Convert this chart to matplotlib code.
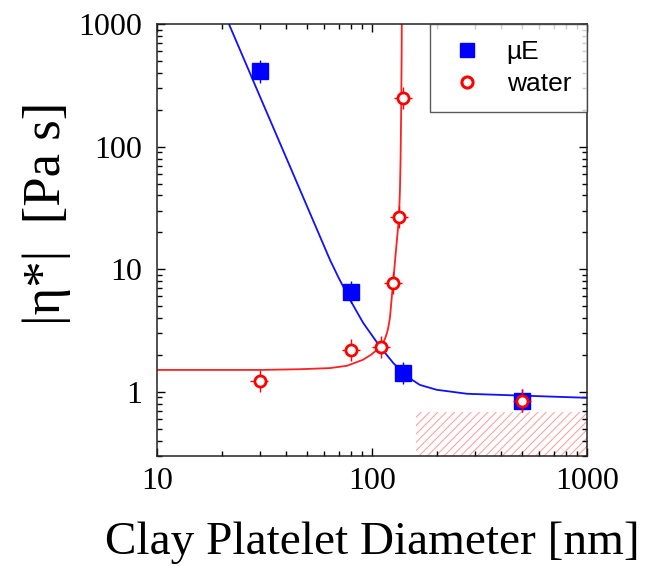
import matplotlib
matplotlib.use("Agg")
import matplotlib.pyplot as plt
from matplotlib.lines import Line2D

# ---- data ----
ue_x = [30, 80, 140, 500]
ue_y = [410, 6.58, 1.42, 0.85]
ue_yerr_lo = [78, 1.25, 0.27, 0.16]
ue_yerr_hi = [95, 1.5, 0.33, 0.2]

water_x = [30, 80, 110, 125.6, 134, 140, 500]
water_y = [1.22, 2.2, 2.32, 7.7, 26.9, 251, 0.85]
water_xerr_lo = [2.8, 7.4, 10, 11.5, 12.3, 12.9, 46]
water_xerr_hi = [3.0, 8.0, 11, 12.6, 13.4, 14.0, 50]
water_yerr_lo = [0.23, 0.42, 0.44, 1.46, 5.1, 48, 0.16]
water_yerr_hi = [0.28, 0.51, 0.53, 1.77, 6.2, 58, 0.2]

# fitted curves
ue_fit_x = [21.0, 21.7, 30.3, 42.3, 63.8, 70, 79.1, 85, 91.1, 108.9, 125.6, 144.9, 167, 200,
            277, 472, 1000]
ue_fit_y = [1150, 982, 250, 64, 11.9, 8.5, 5.63, 4.5, 3.64, 2.34, 1.72, 1.34, 1.14, 1.04,
            0.965, 0.935, 0.895]

water_fit_x = [10, 30, 46, 63.8, 76.5, 90.8, 98.9, 105.5, 110.1, 113.7, 115.6, 117.4, 118.7,
               120.0, 121.3, 123.9, 126.6, 129.3, 132.1, 133.5, 134.9, 135.8, 136.7, 137.3,
               137.6, 137.7]
water_fit_y = [1.51, 1.51, 1.53, 1.563, 1.633, 1.828, 2.006, 2.203, 2.329, 2.61, 2.786, 3.03,
               3.27, 3.62, 4.09, 6.21, 9.42, 14.3, 21.7, 26.7, 44.4, 78, 199, 509, 1000, 1100]

hatch_x = [160, 1000]
hatch_top = 0.69

x_ticks = [10, 100, 1000]
x_ticklabels = ["10", "100", "1000"]
y_ticks = [1, 10, 100, 1000]
y_ticklabels = ["1", "10", "100", "1000"]

plt.rcParams["hatch.linewidth"] = 0.7

fig = plt.figure(figsize=(6.46, 5.66), dpi=100)
ax = fig.add_axes([157/646, 1 - 456/566, 430/646, 432/566])

ax.set_xscale("log")
ax.set_yscale("log")
ax.set_xlim(10, 1000)
ax.set_ylim(0.3, 1000)

ax.fill_between(hatch_x, [0.3, 0.3], [hatch_top, hatch_top], facecolor="none",
                edgecolor="#ff9a9a", hatch="////", linewidth=0, zorder=1)

ax.plot(ue_fit_x, ue_fit_y, color="#1010ff", lw=1.3, zorder=2)
ax.plot(water_fit_x, water_fit_y, color="#ff2020", lw=1.3, zorder=2)

ax.errorbar(ue_x, ue_y, yerr=[ue_yerr_lo, ue_yerr_hi], fmt="s", color="#0000ff",
            ms=11.5, mec="#0000ff", elinewidth=1.0, capsize=0, zorder=3, label="µE")
ax.errorbar(water_x, water_y, xerr=[water_xerr_lo, water_xerr_hi],
            yerr=[water_yerr_lo, water_yerr_hi], fmt="o", color="#ff0000",
            ms=8, mfc="white", mec="#ff0000", mew=2.0, elinewidth=1.0, capsize=0,
            zorder=4, label="water")

ax.set_xticks(x_ticks)
ax.set_xticklabels(x_ticklabels)
ax.set_yticks(y_ticks)
ax.set_yticklabels(y_ticklabels)
ax.tick_params(which="both", direction="in", top=True, right=True)
ax.tick_params(which="major", length=6, width=1.0)
ax.tick_params(which="minor", length=3.5, width=1.0)
ax.tick_params(axis="y", which="major", pad=11)
ax.tick_params(axis="x", which="major", pad=8)
for lab in ax.get_xticklabels() + ax.get_yticklabels():
    lab.set_fontfamily("Liberation Serif")
    lab.set_fontsize(23)
for s in ax.spines.values():
    s.set_linewidth(1.1)
    s.set_color("#222222")

fig.text(372/646, 1 - 543/566, "Clay Platelet Diameter [nm]", fontfamily="Liberation Serif",
         fontsize=34, ha="center", va="center")
fig.text(47/646, 1 - 213/566, "|η*|  [Pa s]", fontfamily="Liberation Serif",
         fontsize=38, ha="center", va="center", rotation=90)

h1 = Line2D([], [], marker="s", ls="none", color="#0000ff", ms=10)
h2 = Line2D([], [], marker="o", ls="none", mfc="white", mec="#ff0000", mew=2.2, ms=8)
leg = ax.legend([h1, h2], ["µE", "water"], loc="upper right", bbox_to_anchor=(1, 1),
                borderaxespad=0, fancybox=False, frameon=True,
                prop={"family": "Liberation Sans", "size": 19},
                handletextpad=0.7, borderpad=0.6, labelspacing=0.3, handlelength=1.6)
leg.get_frame().set_edgecolor("#333333")
leg.get_frame().set_linewidth(1.0)

fig.savefig("out.png", dpi=100)
